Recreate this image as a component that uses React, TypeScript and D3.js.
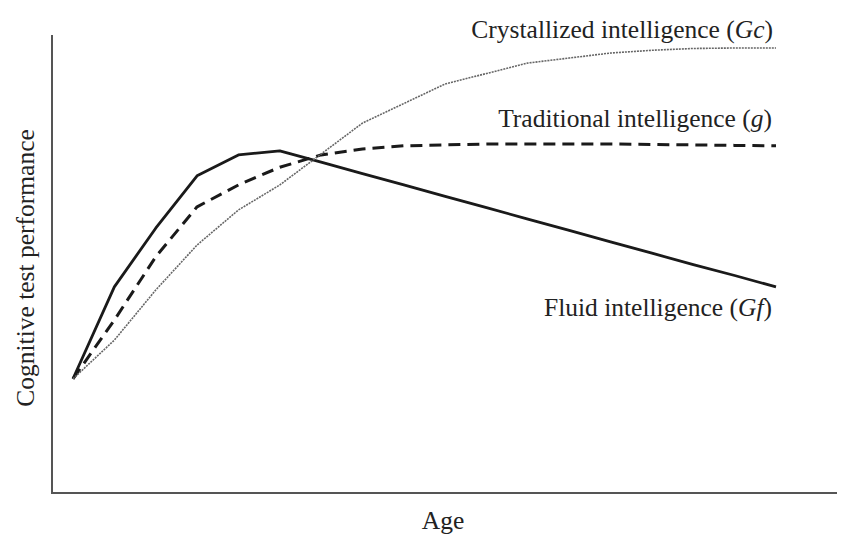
import React, { useEffect, useRef } from 'react';
import * as d3 from 'd3';

// age steps (arbitrary units, no ticks shown on the chart)
const ages = [0, 1, 2, 3, 4, 5, 6, 7, 8, 9, 10, 11, 12, 13, 14, 15, 16, 17];

// performance on a 0-100 scale
const fluid = [25.1, 45.3, 58.2, 69.7, 74.3, 75.2, 72.7, 70.2, 67.7, 65.2, 62.7, 60.2, 57.7, 55.2, 52.7, 50.2, 47.8, 45.3];
const traditional = [25.1, 38.0, 51.9, 62.9, 67.7, 71.6, 74.3, 75.6, 76.3, 76.5, 76.7, 76.7, 76.7, 76.7, 76.6, 76.5, 76.4, 76.3];
const crystallized = [25.1, 33.6, 44.6, 54.5, 62.2, 67.7, 74.5, 81.3, 85.6, 89.9, 92.2, 94.5, 95.6, 96.7, 97.3, 97.7, 97.8, 97.8];

const seriesNames = ['Fluid intelligence', 'Traditional intelligence', 'Crystallized intelligence'];
const seriesSymbols = ['Gf', 'g', 'Gc'];

export default function App() {
  const ref = useRef<SVGSVGElement>(null);

  useEffect(() => {
    const svg = d3.select(ref.current);
    svg.selectAll('*').remove();

    const x = d3.scaleLinear().domain([0, 17]).range([73, 776]);
    const y = d3.scaleLinear().domain([0, 100]).range([493, 38]);

    // axes: plain lines, no ticks
    svg.append('line')
      .attr('x1', 52).attr('x2', 52).attr('y1', 35).attr('y2', 494)
      .attr('stroke', '#555').attr('stroke-width', 2);
    svg.append('line')
      .attr('x1', 51).attr('x2', 837).attr('y1', 493).attr('y2', 493)
      .attr('stroke', '#555').attr('stroke-width', 2);

    const line = d3.line<number>()
      .x((d, i) => x(ages[i]))
      .y(d => y(d));

    const styles = [
      { data: fluid, stroke: '#1a1a1a', width: 2.8, dash: null },
      { data: traditional, stroke: '#1a1a1a', width: 3, dash: '12,7' },
      { data: crystallized, stroke: '#666', width: 1.6, dash: '2,1' },
    ];

    styles.forEach(s => {
      svg.append('path')
        .datum(s.data)
        .attr('fill', 'none')
        .attr('stroke', s.stroke)
        .attr('stroke-width', s.width)
        .attr('stroke-dasharray', s.dash)
        .attr('stroke-linejoin', 'round')
        .attr('d', line);
    });

    const font = '"Liberation Serif", "DejaVu Serif", serif';
    const fs = 25.5;
    const labelPos = [
      { x: 772, y: 316 },
      { x: 772, y: 127 },
      { x: 773, y: 38 },
    ];
    seriesNames.forEach((name, i) => {
      const t = svg.append('text')
        .attr('x', labelPos[i].x).attr('y', labelPos[i].y)
        .attr('text-anchor', 'end')
        .attr('font-family', font)
        .attr('font-size', fs)
        .attr('fill', '#222');
      t.append('tspan').text(name + ' (');
      t.append('tspan').attr('font-style', 'italic').text(seriesSymbols[i]);
      t.append('tspan').text(')');
    });

    svg.append('text')
      .attr('x', 443).attr('y', 529)
      .attr('text-anchor', 'middle')
      .attr('font-family', font)
      .attr('font-size', fs)
      .attr('fill', '#222')
      .text('Age');

    svg.append('text')
      .attr('transform', 'translate(34,268) rotate(-90)')
      .attr('text-anchor', 'middle')
      .attr('font-family', font)
      .attr('font-size', fs)
      .attr('fill', '#222')
      .text('Cognitive test performance');
  }, []);

  return (
    <svg ref={ref} width={854} height={541}
      style={{ position: 'absolute', left: 0, top: 0, background: '#fff' }} />
  );
}
